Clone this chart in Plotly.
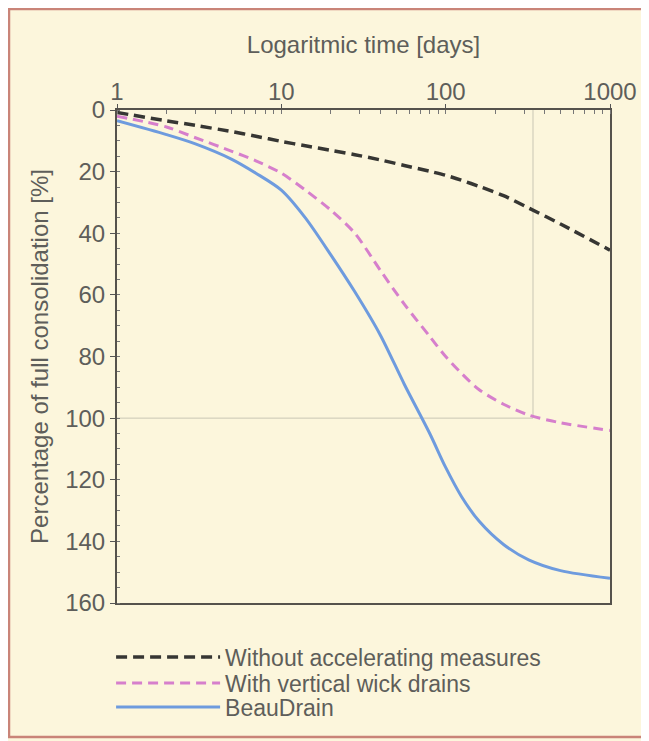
import plotly.graph_objects as go

# ---- data ----
days = [1, 2, 3, 5, 7, 10, 14, 20, 28, 40, 56, 80, 100, 125, 160, 225, 320, 500, 1000]
without_measures = [0.8, 3.5, 5.0, 7.0, 8.5, 10.2, 11.6, 13.1, 14.5, 16.2, 18.0, 19.9, 21.2, 22.8, 24.8, 27.8, 31.8, 37.0, 45.5]
wick_drains = [2.0, 5.5, 9.0, 13.4, 16.5, 20.5, 26.0, 32.5, 40.0, 52.0, 63.0, 73.5, 80.0, 85.5, 90.8, 95.5, 99.0, 101.5, 104.0]
beaudrain = [3.5, 8.0, 11.0, 16.0, 20.5, 26.0, 35.0, 47.0, 59.0, 73.0, 89.0, 105.0, 116.0, 125.5, 133.5, 141.0, 146.0, 149.5, 152.0]

ref_day = 340       # vertical reference line
ref_pct = 100       # horizontal reference line (full consolidation)

series_names = ["Without accelerating measures", "With vertical wick drains", "BeauDrain"]
x_ticks = [1, 10, 100, 1000]
x_ticklabels = ["1", "10", "100", "1000"]
y_ticks = [0, 20, 40, 60, 80, 100, 120, 140, 160]

FONT = "Liberation Sans, Arial, Helvetica, sans-serif"
TXT = "#5e5e5a"
BG = "#FCF6DC"

# figure / plot area geometry (figure pixels)
W, H = 641, 733
L, T, PW, PH = 109, 102, 493, 493

fig = go.Figure()

# reference lines
fig.add_trace(go.Scatter(x=[days[0], ref_day, ref_day], y=[ref_pct, ref_pct, 0],
                         mode="lines", line=dict(color="#c9c6b4", width=1),
                         showlegend=False, hoverinfo="skip"))

styles = [
    dict(color="#363633", width=3.5, dash="11px,6px"),
    dict(color="#D67FCC", width=3, dash="10px,6px"),
    dict(color="#6E9BDE", width=3),
]
values = [without_measures, wick_drains, beaudrain]
legend_ids = ["legend", "legend2", "legend3"]
for name, vals, st, lg in zip(series_names, values, styles, legend_ids):
    fig.add_trace(go.Scatter(x=days, y=vals, name=name, mode="lines", legend=lg,
                             line=dict(shape="spline", smoothing=0.8, **st)))

# frame around the figure
fig.add_shape(type="rect", xref="paper", yref="paper",
              x0=(1 - L) / PW, x1=(700 - L) / PW,
              y0=(T + PH - 729) / PH, y1=(T + PH - 1) / PH,
              line=dict(color="#C98478", width=2.5), fillcolor="rgba(0,0,0,0)", layer="below")

def leg(row_y):
    return dict(x=-0.012, y=(T + PH - row_y) / PH, xanchor="left", yanchor="middle",
                bgcolor="rgba(0,0,0,0)", itemwidth=104,
                font=dict(family=FONT, size=23, color=TXT))

fig.update_layout(
    width=W, height=H,
    margin=dict(l=L, r=W - L - PW, t=T, b=H - T - PH),
    paper_bgcolor=BG, plot_bgcolor=BG,
    font=dict(family=FONT, color=TXT, size=24),
    showlegend=True,
    legend=leg(649), legend2=leg(675), legend3=leg(699),
    xaxis=dict(type="log", side="top", range=[0, 3],
               tickvals=x_ticks, ticktext=x_ticklabels,
               ticks="outside", ticklen=4, tickcolor="#555", ticklabelstandoff=-6,
               showline=True, linecolor="#55524c", linewidth=2, mirror=True,
               showgrid=False, zeroline=False,
               title=dict(text="Logaritmic time [days]", standoff=18,
                          font=dict(size=24, color=TXT)),
               tickfont=dict(size=24, color=TXT),
               minor=dict(ticks="inside", ticklen=4, tickcolor="#777", dtick="D1", showgrid=False)),
    yaxis=dict(range=[160, 0], tickvals=y_ticks,
               ticks="outside", ticklen=5, tickcolor="#555",
               showline=True, linecolor="#55524c", linewidth=2, mirror=True,
               showgrid=False, zeroline=False,
               title=dict(text="Percentage of full consolidation [%]", standoff=10,
                          font=dict(size=24, color=TXT)),
               tickfont=dict(size=24, color=TXT),
               minor=dict(ticks="inside", ticklen=3, tickcolor="#777", dtick=5, showgrid=False)),
)

fig.write_html("out.html")
